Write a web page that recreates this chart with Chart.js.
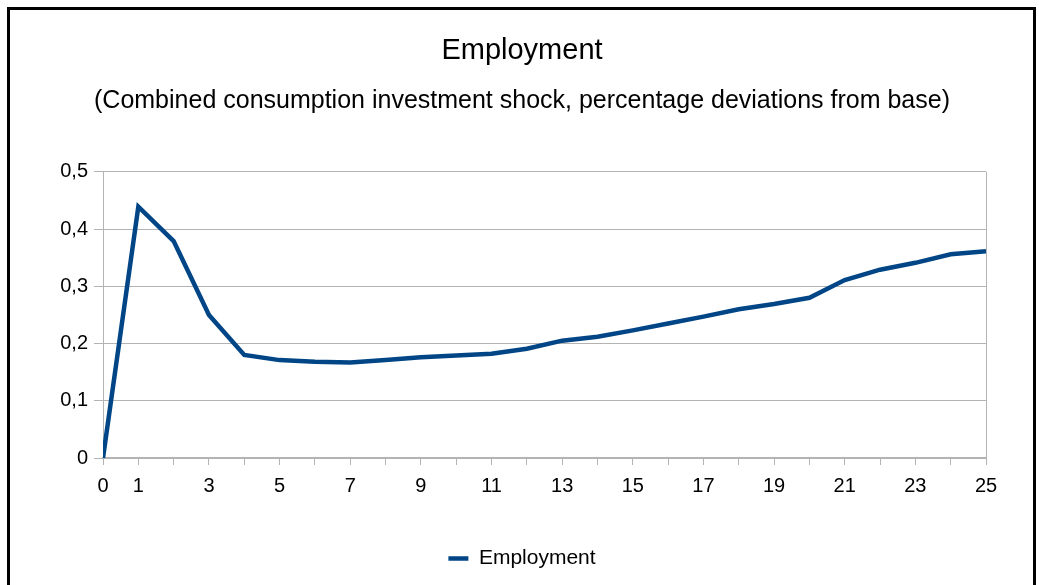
<!DOCTYPE html>
<html>
<head>
<meta charset="utf-8">
<script src="https://cdn.jsdelivr.net/npm/chart.js@4.4.1/dist/chart.umd.min.js"></script>
<style>
  html, body { margin: 0; padding: 0; background: #fff; overflow: hidden; }
  #frame { position: absolute; left: 7px; top: 7px; width: 1023px; height: 600px; border: 3px solid #000; }
  #wrap { position: absolute; left: 0; top: 0; width: 1039px; height: 585px; }
</style>
</head>
<body>
<div id="frame"></div>
<div id="wrap"><canvas id="employmentChart" width="1039" height="585"></canvas></div>
<script>
// periods after the shock
var periods = [0, 1, 2, 3, 4, 5, 6, 7, 8, 9, 10, 11, 12, 13, 14, 15, 16, 17, 18, 19, 20, 21, 22, 23, 24, 25];
// employment, % deviation from base
var employment = [0, 0.439, 0.379, 0.25, 0.18, 0.171, 0.168, 0.167, 0.171, 0.176, 0.179, 0.182, 0.191, 0.205,
  0.212, 0.223, 0.235, 0.247, 0.26, 0.269, 0.28, 0.311, 0.329, 0.341, 0.356, 0.361];
var xLabelled = [0, 1, 3, 5, 7, 9, 11, 13, 15, 17, 19, 21, 23, 25];

var chartTitle = 'Employment';
var chartSubtitle = '(Combined consumption investment shock, percentage deviations from base)';

var points = [];
for (let i = 0; i < periods.length; i++) {
  points[i] = {x: periods[i], y: employment[i]};
}

var lineColor = '#004586';
var gridColor = '#b3b3b3';
var fontFamily = '"Liberation Sans", Arial, sans-serif';

var ctx = document.getElementById('employmentChart');
var chart = new Chart(ctx, {
  type: 'line',
  data: {
    datasets: [{
      label: 'Employment',
      data: points,
      borderColor: lineColor,
      backgroundColor: lineColor,
      borderWidth: 4.5,
      pointRadius: 0,
      tension: 0
    }]
  },
  options: {
    responsive: false,
    animation: false,
    layout: { padding: { left: 58, right: 53, top: 8, bottom: 6 } },
    plugins: {
      title: {
        display: true,
        text: chartTitle,
        color: '#000',
        font: { family: fontFamily, size: 29, weight: 'normal' },
        padding: { top: 26, bottom: 7 }
      },
      subtitle: {
        display: true,
        text: chartSubtitle,
        color: '#000',
        font: { family: fontFamily, size: 25, weight: 'normal' },
        padding: { top: 10, bottom: 56 }
      },
      legend: {
        position: 'bottom',
        labels: {
          color: '#000',
          font: { family: fontFamily, size: 21 },
          usePointStyle: true,
          pointStyle: 'line',
          pointStyleWidth: 20,
          padding: 10
        }
      },
      tooltip: { enabled: false }
    },
    scales: {
      x: {
        type: 'linear',
        min: 0,
        max: 25,
        afterFit: function (scale) { scale.height = 80; },
        afterBuildTicks: function (scale) {
          scale.ticks = periods.map(function (p) { return {value: p}; });
        },
        ticks: {
          color: '#000',
          font: { family: fontFamily, size: 20 },
          padding: 9,
          maxRotation: 0,
          autoSkip: false,
          callback: function (v) { return xLabelled.indexOf(v) >= 0 ? String(v) : ''; }
        },
        grid: {
          color: function (c) { return c.tick && c.tick.value === 25 ? gridColor : 'rgba(0,0,0,0)'; },
          tickColor: gridColor,
          tickLength: 7
        },
        border: { color: gridColor, width: 2 }
      },
      y: {
        min: 0,
        max: 0.5,
        afterFit: function (scale) { scale.width = 45; },
        ticks: {
          stepSize: 0.1,
          color: '#000',
          font: { family: fontFamily, size: 20 },
          padding: 6,
          callback: function (v) { return v === 0 ? '0' : v.toFixed(1).replace('.', ','); }
        },
        grid: { color: gridColor, tickColor: gridColor, tickLength: 9 },
        border: { color: gridColor }
      }
    }
  }
});
</script>
</body>
</html>
